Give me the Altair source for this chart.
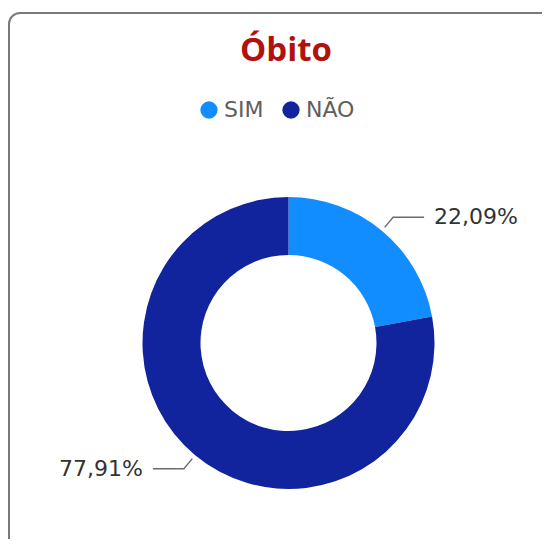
import math
import altair as alt
import pandas as pd

# ---- data ----
categorias = ["SIM", "NÃO"]
percentuais = [22.09, 77.91]
cores = ["#118DFF", "#12239E"]

# ---- layout (styling only) ----
W, H = 534, 461
PAD_TOP = 70
CX, CY = 280.5, 265
R_OUT, R_IN = 146, 88

df = pd.DataFrame({"categoria": categorias, "valor": percentuais, "ordem": list(range(len(categorias)))})

# leader lines and labels derived from the slice mid-angles
total = sum(percentuais)
linhas, rotulos = [], []
acum = 0.0
for cat, v in zip(categorias, percentuais):
    mid = (acum + v / 2) / total * 2 * math.pi
    acum += v
    s, c = math.sin(mid), -math.cos(mid)
    lado = 1 if s >= 0 else -1
    x1, y1 = CX + 1.03 * R_OUT * s, CY + 1.03 * R_OUT * c
    x2, y2 = CX + 1.12 * R_OUT * s, CY + 1.12 * R_OUT * c
    x3 = x2 + lado * 31
    for i, (xx, yy) in enumerate([(x1, y1), (x2, y2), (x3, y2)]):
        linhas.append({"categoria": cat, "passo": i, "x": xx, "y": yy})
    rotulos.append({
        "categoria": cat,
        "rotulo": f"{v:.2f}".replace(".", ",") + "%",
        "x": x3 + lado * 10,
        "y": y2,
        "lado": "dir" if lado > 0 else "esq",
    })
df_linhas = pd.DataFrame(linhas)
df_rot = pd.DataFrame(rotulos)

xs = alt.Scale(domain=[0, W], range=[0, W], nice=False, zero=False)
ys = alt.Scale(domain=[0, H], range=[0, H], nice=False, zero=False)

card = alt.Chart(pd.DataFrame({"k": [0]})).mark_rect(
    cornerRadius=11, fill="white", stroke="#7a7a7a", strokeWidth=2
).encode(
    x=alt.value(1), x2=alt.value(W + 40),
    y=alt.value(-65), y2=alt.value(H + 40),
)

donut = alt.Chart(df).mark_arc(innerRadius=R_IN, outerRadius=R_OUT).encode(
    theta=alt.Theta("valor:Q", stack=True),
    order=alt.Order("ordem:Q"),
    color=alt.Color(
        "categoria:N",
        scale=alt.Scale(domain=categorias, range=cores),
        sort=categorias,
        legend=alt.Legend(
            title=None, orient="none", legendX=190, legendY=21,
            direction="horizontal", symbolType="circle", symbolSize=300,
            symbolStrokeWidth=0, labelFont="DejaVu Sans", labelFontSize=22,
            labelColor="#605E5C", labelOffset=4, columnPadding=16,
        ),
    ),
    x=alt.value(CX), y=alt.value(CY),
)

guias = alt.Chart(df_linhas).mark_line(color="#6b6b6b", strokeWidth=1.4).encode(
    x=alt.X("x:Q", scale=xs, axis=None),
    y=alt.Y("y:Q", scale=ys, axis=None),
    detail="categoria:N",
    order="passo:Q",
)

txt_kw = dict(font="DejaVu Sans", fontSize=22, color="#333333", baseline="middle")
rot_dir = alt.Chart(df_rot).transform_filter(alt.datum.lado == "dir").mark_text(align="left", **txt_kw).encode(
    x=alt.X("x:Q", scale=xs, axis=None), y=alt.Y("y:Q", scale=ys, axis=None), text="rotulo:N"
)
rot_esq = alt.Chart(df_rot).transform_filter(alt.datum.lado == "esq").mark_text(align="right", **txt_kw).encode(
    x=alt.X("x:Q", scale=xs, axis=None), y=alt.Y("y:Q", scale=ys, axis=None), text="rotulo:N"
)

chart = alt.layer(card, donut, guias, rot_dir, rot_esq).properties(
    width=W, height=H,
    title=alt.TitleParams(
        "Óbito", font="Open Sans", fontSize=33, fontWeight="bold",
        color="#B0120E", anchor="middle", dx=11, offset=-82,
        frame="group", baseline="alphabetic",
    ),
    autosize=alt.AutoSizeParams(type="none"),
    padding={"left": 0, "right": 0, "top": PAD_TOP, "bottom": 0},
    background="white",
).configure_view(stroke=None)

chart.save("out.html", embed_options={"renderer": "svg", "actions": False})
